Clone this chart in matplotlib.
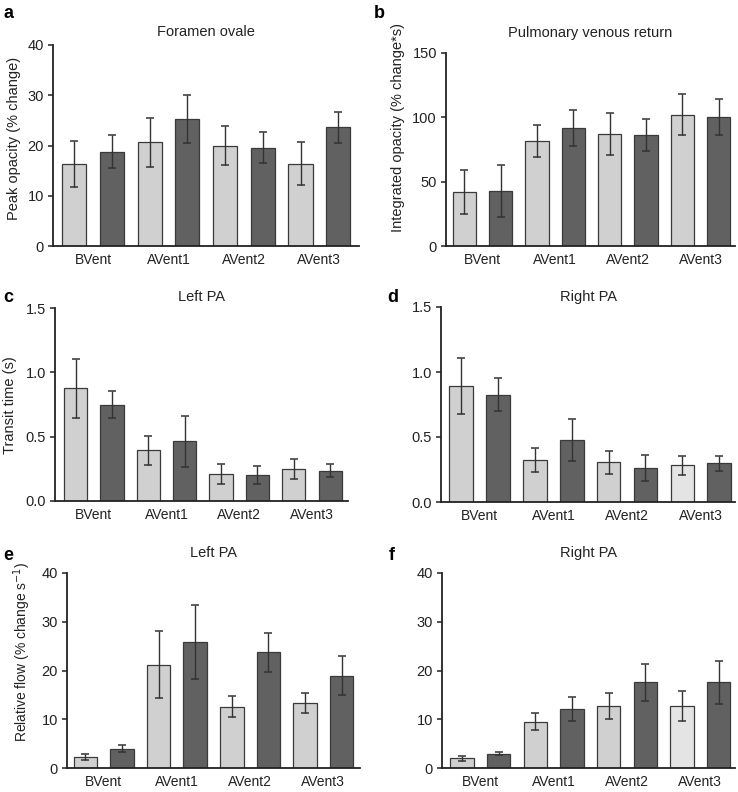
import numpy as np
import matplotlib
matplotlib.use("Agg")
import matplotlib.pyplot as plt
from matplotlib.ticker import FormatStrFormatter

plt.rcParams["font.family"] = ["Liberation Sans", "DejaVu Sans"]

# ── Data ───────────────────────────────────────────────
groups = ["BVent", "AVent1", "AVent2", "AVent3"]

a_light = [16.3, 20.6, 20.0, 16.4]
a_light_err = [4.5, 4.8, 3.8, 4.3]
a_dark = [18.8, 25.3, 19.6, 23.6]
a_dark_err = [3.3, 4.8, 3.0, 3.1]

b_light = [42.0, 81.6, 86.8, 102.0]
b_light_err = [17.3, 12.3, 16.3, 16.1]
b_dark = [42.7, 91.7, 86.0, 100.2]
b_dark_err = [20.3, 14.2, 12.5, 13.9]

c_light = [0.876, 0.394, 0.212, 0.249]
c_light_err = [0.228, 0.113, 0.079, 0.080]
c_dark = [0.749, 0.466, 0.202, 0.236]
c_dark_err = [0.103, 0.198, 0.067, 0.053]

d_light = [0.890, 0.322, 0.304, 0.281]
d_light_err = [0.216, 0.090, 0.090, 0.074]
d_dark = [0.826, 0.476, 0.261, 0.297]
d_dark_err = [0.127, 0.161, 0.097, 0.060]

e_light = [2.2, 21.2, 12.6, 13.3]
e_light_err = [0.65, 6.9, 2.2, 2.0]
e_dark = [4.0, 25.8, 23.7, 18.9]
e_dark_err = [0.65, 7.6, 4.0, 4.0]

f_light = [2.0, 9.5, 12.7, 12.7]
f_light_err = [0.5, 1.75, 2.65, 3.05]
f_dark = [2.9, 12.1, 17.6, 17.6]
f_dark_err = [0.3, 2.4, 3.8, 4.4]

# ── Figure layout (pixel boxes) ────────────────────────
W, H = 738, 792
fig = plt.figure(figsize=(W / 100, H / 100), dpi=100)

LIGHT = "#d0d0d0"
PALE = "#e4e4e4"
DARK = "#616161"
EDGE = "#3a3a3a"
TXT = "#222222"


def px_axes(left, top, right, bottom):
    return fig.add_axes([left / W, 1 - bottom / H, (right - left) / W, (bottom - top) / H])


def fig_text(x, y, s, **kw):
    fig.text(x / W, 1 - y / H, s, **kw)


panels = [
    # letter, title, ylabel, light, light_err, dark, dark_err, box, xlim, ylim, yticks, fmt
    ("a", "Foramen ovale", "Peak opacity (% change)",
     a_light, a_light_err, a_dark, a_dark_err,
     (53, 45, 359, 246), (-0.56, 7.55), (0, 40), [0, 10, 20, 30, 40], "%d"),
    ("b", "Pulmonary venous return", "Integrated opacity (% change*s)",
     b_light, b_light_err, b_dark, b_dark_err,
     (446, 53, 735, 246), (-0.5, 7.45), (0, 150), [0, 50, 100, 150], "%d"),
    ("c", "Left PA", "Transit time (s)",
     c_light, c_light_err, c_dark, c_dark_err,
     (55, 308, 348, 501), (-0.57, 7.49), (0, 1.5), [0, 0.5, 1.0, 1.5], "%.1f"),
    ("d", "Right PA", None,
     d_light, d_light_err, d_dark, d_dark_err,
     (441, 307, 735, 502), (-0.55, 7.43), (0, 1.5), [0, 0.5, 1.0, 1.5], "%.1f"),
    ("e", "Left PA", "Relative flow (% change s$^{-1}$)",
     e_light, e_light_err, e_dark, e_dark_err,
     (67, 573, 360, 768), (-0.5, 7.5), (0, 40), [0, 10, 20, 30, 40], "%d"),
    ("f", "Right PA", None,
     f_light, f_light_err, f_dark, f_dark_err,
     (442, 573, 735, 768), (-0.55, 7.45), (0, 40), [0, 10, 20, 30, 40], "%d"),
]

# where the extra text goes (pixels): letter xy, title y, ylabel xy
letter_pos = {"a": (3, 13), "b": (374, 13), "c": (3, 297), "d": (387, 297),
              "e": (3, 555), "f": (389, 555)}
title_y = {"a": 32, "b": 33, "c": 297, "d": 297, "e": 553, "f": 553}
ylabel_pos = {"a": (14, 138), "b": (398, 128), "c": (10, 405), "e": (22, 652)}
pale_bar = {"d": 6, "f": 6}   # the lighter AVent3 bar in d and f

x = np.arange(8)

for letter, title, ylabel, lv, le, dv, de, box, xlim, ylim, yticks, fmt in panels:
    ax = px_axes(*box)
    vals = np.empty(8)
    errs = np.empty(8)
    vals[0::2], vals[1::2] = lv, dv
    errs[0::2], errs[1::2] = le, de
    colors = [LIGHT if i % 2 == 0 else DARK for i in range(8)]
    if letter in pale_bar:
        colors[pale_bar[letter]] = PALE

    ax.bar(x, vals, width=0.64, color=colors, edgecolor=EDGE, linewidth=0.9, zorder=2)
    ax.errorbar(x, vals, yerr=errs, fmt="none", ecolor="#333333",
                elinewidth=1.0, capsize=2.6, capthick=1.1, zorder=3)

    ax.set_xlim(*xlim)
    ax.set_ylim(*ylim)
    ax.set_yticks(yticks)
    ax.yaxis.set_major_formatter(FormatStrFormatter(fmt))
    ax.set_xticks(x[0::2] + 0.5)
    ax.set_xticklabels(groups)

    for side in ("top", "right"):
        ax.spines[side].set_visible(False)
    for side in ("left", "bottom"):
        ax.spines[side].set_linewidth(1.3)
        ax.spines[side].set_color(TXT)
    ax.tick_params(axis="y", length=3.5, width=1.1, pad=3, labelsize=10.5, colors=TXT)
    ax.tick_params(axis="x", length=0, pad=5, labelsize=10, colors=TXT)

    cx = (box[0] + box[2]) / 2
    fig_text(cx, title_y[letter], title, ha="center", va="center", fontsize=10.5, color=TXT)
    lx, ly = letter_pos[letter]
    fig_text(lx, ly, letter, ha="left", va="center", fontsize=13, fontweight="bold")
    if ylabel:
        yx, yy = ylabel_pos[letter]
        fs = 10 if letter == "e" else 10.5
        fig_text(yx, yy, ylabel, ha="center", va="center", rotation=90,
                 fontsize=fs, color=TXT)

fig.savefig("out.png", dpi=100)
